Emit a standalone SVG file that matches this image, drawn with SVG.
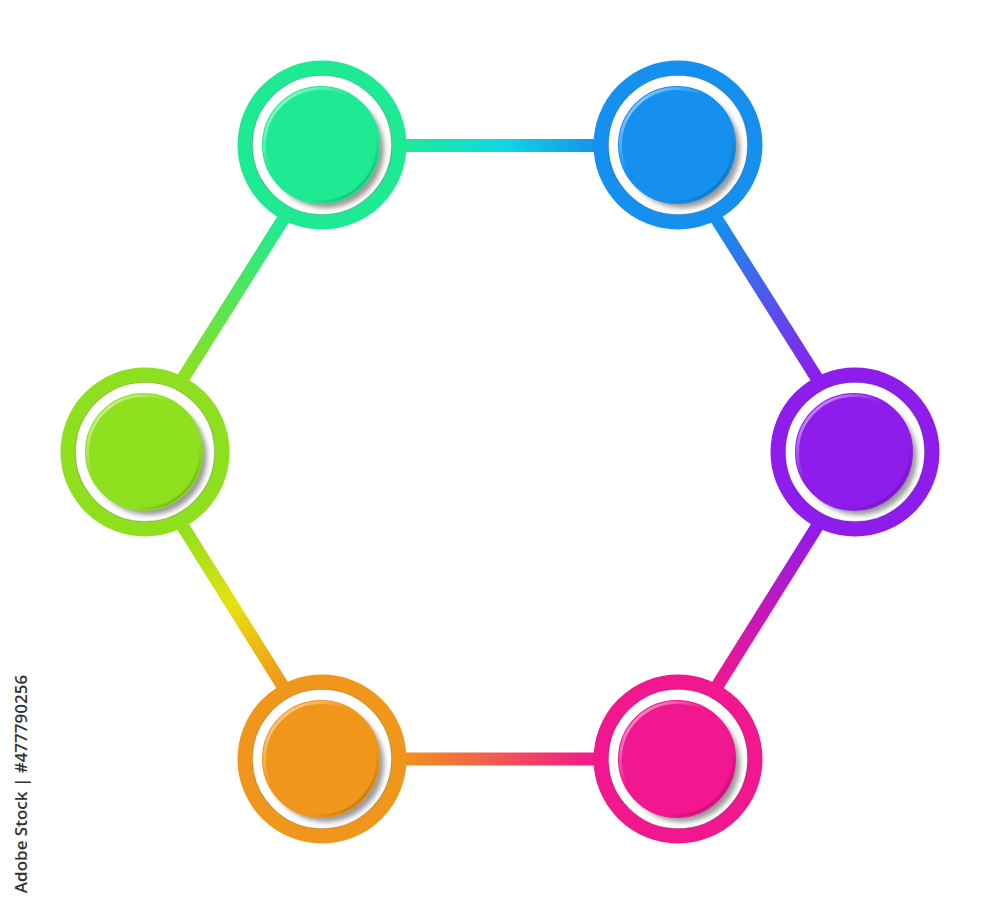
<svg xmlns="http://www.w3.org/2000/svg" width="1000" height="906" viewBox="0 0 1000 906">
<style>
.ring{stroke-width:15;fill:#fff}
.disk{stroke-width:2}
.shadow{fill:#9a9a9a;filter:url(#blur)}
.edge{fill:none;stroke:#000;stroke-opacity:0.18;stroke-width:1.2}
.rim{fill:none;stroke:url(#rimg);stroke-width:3}
.conn line{stroke-width:13;stroke-linecap:butt}
.label{font-family:"Open Sans","Liberation Sans",sans-serif;font-size:17px;font-weight:600;fill:#333}
</style>
<defs>
<filter id="blur" x="-20%" y="-20%" width="140%" height="140%"><feGaussianBlur stdDeviation="2.5"/></filter>
<linearGradient id="rimg" x1="0" y1="0" x2="1" y2="1">
<stop offset="0" stop-color="#fff" stop-opacity="0.7"/>
<stop offset="0.4" stop-color="#fff" stop-opacity="0"/>
<stop offset="0.7" stop-color="#000" stop-opacity="0"/>
<stop offset="1" stop-color="#000" stop-opacity="0.3"/>
</linearGradient>
<linearGradient id="g1" gradientUnits="userSpaceOnUse" x1="400" y1="0" x2="600" y2="0"><stop offset="0" stop-color="#1EEA94"/><stop offset="0.5" stop-color="#12D8E0"/><stop offset="1" stop-color="#1590EE"/></linearGradient>
<linearGradient id="g2" gradientUnits="userSpaceOnUse" x1="720" y1="220" x2="815" y2="380"><stop offset="0" stop-color="#1590EE"/><stop offset="1" stop-color="#8E1CEB"/></linearGradient>
<linearGradient id="g3" gradientUnits="userSpaceOnUse" x1="815" y1="525" x2="720" y2="685"><stop offset="0" stop-color="#8E1CEB"/><stop offset="1" stop-color="#F0178F"/></linearGradient>
<linearGradient id="g4" gradientUnits="userSpaceOnUse" x1="600" y1="0" x2="400" y2="0"><stop offset="0" stop-color="#F0178F"/><stop offset="1" stop-color="#F0961A"/></linearGradient>
<linearGradient id="g5" gradientUnits="userSpaceOnUse" x1="280" y1="685" x2="185" y2="525"><stop offset="0" stop-color="#F0961A"/><stop offset="0.5" stop-color="#E8E010"/><stop offset="1" stop-color="#8EE01E"/></linearGradient>
<linearGradient id="g6" gradientUnits="userSpaceOnUse" x1="185" y1="380" x2="280" y2="220"><stop offset="0" stop-color="#8EE01E"/><stop offset="1" stop-color="#1EEA94"/></linearGradient>
</defs>
<rect width="1000" height="906" fill="#fff"/>
<g id="connectors" class="conn">
<line x1="395" y1="145.5" x2="605" y2="145.5" stroke="url(#g1)"/>
<line x1="716" y1="218" x2="818" y2="380" stroke="url(#g2)"/>
<line x1="818" y1="525" x2="716" y2="688" stroke="url(#g3)"/>
<line x1="605" y1="759" x2="395" y2="759" stroke="url(#g4)"/>
<line x1="284" y1="688" x2="182" y2="525" stroke="url(#g5)"/>
<line x1="182" y1="380" x2="284" y2="218" stroke="url(#g6)"/>
</g>
<g id="node-top-left">
<circle class="ring" cx="322" cy="145" r="77" stroke="#1EEA94"/>
<circle class="edge" cx="322" cy="145" r="69.5"/>
<circle class="shadow" cx="326" cy="150" r="58"/>
<circle class="disk" cx="321" cy="145" r="58" fill="#1EEA94" stroke="#1EEA94"/>
<circle class="rim" cx="321" cy="145" r="56.5"/>
</g>
<g id="node-top-right">
<circle class="ring" cx="678" cy="145" r="77" stroke="#1590EE"/>
<circle class="edge" cx="678" cy="145" r="69.5"/>
<circle class="shadow" cx="682" cy="150" r="58"/>
<circle class="disk" cx="677" cy="145" r="58" fill="#1590EE" stroke="#1590EE"/>
<circle class="rim" cx="677" cy="145" r="56.5"/>
</g>
<g id="node-right">
<circle class="ring" cx="855" cy="452" r="77" stroke="#8E1CEB"/>
<circle class="edge" cx="855" cy="452" r="69.5"/>
<circle class="shadow" cx="859" cy="457" r="58"/>
<circle class="disk" cx="854" cy="452" r="58" fill="#8E1CEB" stroke="#8E1CEB"/>
<circle class="rim" cx="854" cy="452" r="56.5"/>
</g>
<g id="node-bottom-right">
<circle class="ring" cx="678" cy="759" r="77" stroke="#F0178F"/>
<circle class="edge" cx="678" cy="759" r="69.5"/>
<circle class="shadow" cx="682" cy="764" r="58"/>
<circle class="disk" cx="677" cy="759" r="58" fill="#F0178F" stroke="#F0178F"/>
<circle class="rim" cx="677" cy="759" r="56.5"/>
</g>
<g id="node-bottom-left">
<circle class="ring" cx="322" cy="759" r="77" stroke="#F0961A"/>
<circle class="edge" cx="322" cy="759" r="69.5"/>
<circle class="shadow" cx="326" cy="764" r="58"/>
<circle class="disk" cx="321" cy="759" r="58" fill="#F0961A" stroke="#F0961A"/>
<circle class="rim" cx="321" cy="759" r="56.5"/>
</g>
<g id="node-left">
<circle class="ring" cx="145" cy="452" r="77" stroke="#8EE01E"/>
<circle class="edge" cx="145" cy="452" r="69.5"/>
<circle class="shadow" cx="149" cy="457" r="58"/>
<circle class="disk" cx="144" cy="452" r="58" fill="#8EE01E" stroke="#8EE01E"/>
<circle class="rim" cx="144" cy="452" r="56.5"/>
</g>
<text class="label" transform="translate(27,784) rotate(-90)" text-anchor="middle">Adobe Stock | #477790256</text>
</svg>
